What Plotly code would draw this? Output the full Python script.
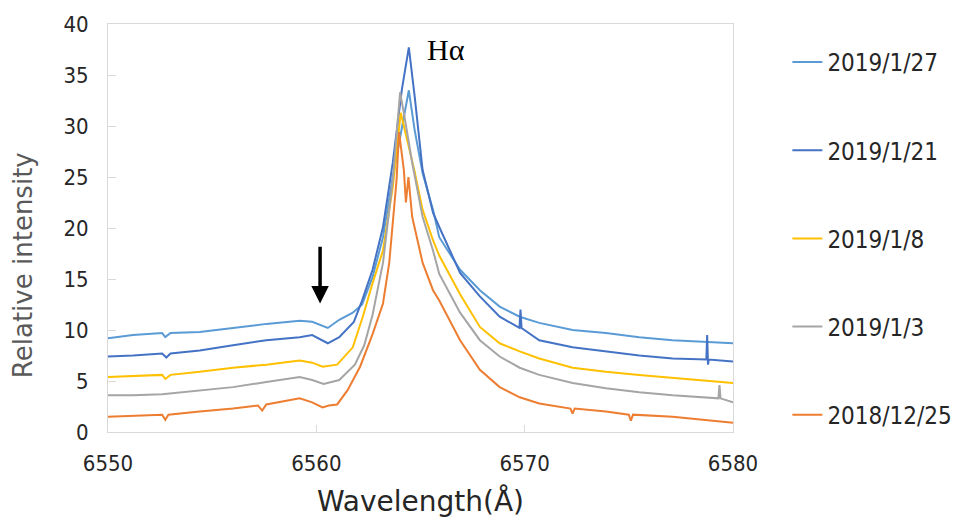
import plotly.graph_objects as go

# ---------------- data ----------------
series_names = ["2019/1/27", "2019/1/21", "2019/1/8", "2019/1/3", "2018/12/25"]
series_colors = ["#5B9BD5", "#4472C4", "#FFC000", "#A5A5A5", "#ED7D31"]

wl_0127 = [6550, 6551.2, 6552.6, 6552.75, 6553, 6554.4, 6556, 6557.6, 6559.2, 6559.8,
           6560.55, 6561.1, 6561.75, 6562.2, 6562.7, 6563.2, 6563.67, 6564.1, 6564.44,
           6564.72, 6565.1, 6565.6, 6565.9, 6566.9, 6567.85, 6568.8, 6569.76, 6570.7,
           6572.3, 6573.9, 6575.5, 6577.1, 6580]
in_0127 = [9.2, 9.5, 9.7, 9.3, 9.7, 9.8, 10.2, 10.6, 10.9, 10.8,
           10.2, 11.0, 11.7, 12.5, 15.2, 19.1, 25.0, 29.9, 33.5,
           29.6, 25.4, 21.8, 19.1, 15.9, 13.9, 12.3, 11.3, 10.7,
           10.0, 9.7, 9.3, 9.0, 8.7]

wl_0121 = [6550, 6551.2, 6552.6, 6552.8, 6553, 6554.4, 6556, 6557.6, 6559.2, 6559.8,
           6560.55, 6561.1, 6561.8, 6562.2, 6562.7, 6563.2, 6563.67, 6564.1, 6564.44,
           6564.72, 6565.1, 6565.6, 6565.9, 6566.9, 6567.85, 6568.8, 6569.75, 6569.8,
           6569.85, 6570.7, 6572.3, 6573.9, 6575.5, 6577.1, 6578.72, 6578.76, 6578.8,
           6578.84, 6580]
in_0121 = [7.4, 7.5, 7.7, 7.3, 7.7, 8.0, 8.5, 9.0, 9.3, 9.5,
           8.7, 9.3, 10.8, 12.9, 15.9, 20.1, 26.4, 33.5, 37.7,
           32.9, 25.7, 21.5, 20.1, 15.6, 13.3, 11.3, 10.2, 12.0,
           10.2, 9.0, 8.3, 7.9, 7.5, 7.2, 7.1, 9.5, 6.6,
           7.1, 6.9]

wl_0108 = [6550, 6551.2, 6552.6, 6552.75, 6553, 6554.4, 6556, 6557.6, 6559.2, 6559.8,
           6560.3, 6561.0, 6561.75, 6562.23, 6562.7, 6563.2, 6563.67, 6564.05, 6564.25,
           6564.7, 6565.1, 6565.6, 6565.9, 6566.9, 6567.85, 6568.8, 6569.76, 6570.7,
           6572.3, 6573.9, 6575.5, 6577.1, 6580]
in_0108 = [5.4, 5.5, 5.6, 5.2, 5.6, 5.9, 6.3, 6.6, 7.0, 6.8,
           6.4, 6.6, 8.3, 11.3, 14.6, 17.8, 24.0, 31.3, 29.6,
           25.7, 21.8, 18.8, 17.3, 13.5, 10.3, 8.7, 7.9, 7.2,
           6.3, 5.9, 5.6, 5.3, 4.8]

wl_0103 = [6550, 6551.2, 6552.6, 6554.4, 6556, 6557.6, 6559.2, 6559.8, 6560.35, 6561.1,
           6561.85, 6562.3, 6562.7, 6563.2, 6563.67, 6564.02, 6564.2, 6564.6, 6565.1,
           6565.6, 6565.9, 6566.9, 6567.85, 6568.8, 6569.76, 6570.7, 6572.3, 6573.9,
           6575.5, 6577.1, 6579.3, 6579.35, 6579.4, 6580]
in_0103 = [3.6, 3.6, 3.7, 4.1, 4.4, 4.9, 5.4, 5.1, 4.7, 5.1,
           6.6, 8.5, 11.5, 16.6, 24.7, 33.3, 31.3, 26.4, 21.1,
           17.8, 15.5, 11.7, 9.0, 7.4, 6.3, 5.6, 4.8, 4.3,
           3.9, 3.6, 3.3, 4.6, 3.3, 2.9]

wl_1225 = [6550, 6551.2, 6552.6, 6552.75, 6552.9, 6554.4, 6556, 6557.2, 6557.4, 6557.6,
           6559.2, 6559.8, 6560.3, 6560.6, 6561.0, 6561.5, 6562.1, 6562.7, 6563.2, 6563.5,
           6563.85, 6563.97, 6564.2, 6564.3, 6564.42, 6564.6, 6565.1, 6565.6, 6565.9,
           6566.9, 6567.85, 6568.8, 6569.76, 6570.7, 6572.2, 6572.3, 6572.4, 6573.9,
           6575.0, 6575.1, 6575.2, 6577.1, 6580]
in_1225 = [1.5, 1.6, 1.7, 1.2, 1.7, 2.0, 2.3, 2.6, 2.1, 2.7,
           3.3, 2.9, 2.4, 2.6, 2.7, 4.1, 6.4, 9.6, 12.6, 16.6,
           24.7, 29.4, 25.7, 22.5, 25.0, 21.1, 16.6, 13.9, 12.9,
           9.0, 6.1, 4.4, 3.4, 2.8, 2.3, 1.8, 2.3, 2.0,
           1.7, 1.1, 1.7, 1.5, 0.9]

wavelengths = [wl_0127, wl_0121, wl_0108, wl_0103, wl_1225]
intensities = [in_0127, in_0121, in_0108, in_0103, in_1225]

x_ticks = [6550, 6560, 6570, 6580]
y_ticks = [0, 5, 10, 15, 20, 25, 30, 35, 40]

# ---------------- figure ----------------
COND = "DejaVu Sans Condensed, Liberation Sans Narrow, sans-serif"
WIDE = "DejaVu Sans, sans-serif"
TXT = "#262626"
fig = go.Figure()
for i, name in enumerate(series_names):
    fig.add_trace(go.Scatter(
        x=wavelengths[i], y=intensities[i], mode="lines", name=name,
        line=dict(color=series_colors[i], width=2),
        legendgroup=name,
    ))

axis_line = "#D9D9D9"
fig.update_layout(
    width=957, height=524,
    margin=dict(l=108, r=224, t=24, b=92, autoexpand=False),
    paper_bgcolor="white", plot_bgcolor="white",
    font=dict(family=COND, color=TXT),
    showlegend=True,
    legend=dict(
        x=1.087, xanchor="left", y=0.961, yanchor="top",
        font=dict(family=COND, size=24, color=TXT),
        tracegroupgap=54, itemwidth=30, bgcolor="rgba(0,0,0,0)",
        traceorder="grouped",
    ),
    xaxis=dict(
        range=[6550, 6580], tickvals=x_ticks, ticktext=[str(v) for v in x_ticks],
        ticks="inside", ticklen=7, tickcolor=axis_line,
        showline=True, linecolor=axis_line, linewidth=1, mirror=True,
        showgrid=False, zeroline=False, ticklabelstandoff=12,
        tickfont=dict(size=22, family=COND, color=TXT),
        title=dict(text="Wavelength(Å)", font=dict(size=28, family=WIDE, color=TXT),
                   standoff=15),
    ),
    yaxis=dict(
        range=[0, 40], tickvals=y_ticks, ticktext=[str(v) for v in y_ticks],
        ticks="inside", ticklen=8, tickcolor=axis_line,
        showline=True, linecolor=axis_line, linewidth=1, mirror=True,
        showgrid=False, zeroline=False, ticklabelstandoff=14,
        tickfont=dict(size=22, family=COND, color=TXT),
    ),
    annotations=[
        dict(x=-0.136, y=0.409, xref="paper", yref="paper", text="Relative intensity",
             textangle=-90, showarrow=False, xanchor="center", yanchor="middle",
             font=dict(family=WIDE, size=26, color="#595959")),
        dict(x=6566.2, y=37.5, xref="x", yref="y", text="Hα", showarrow=False,
             font=dict(family="Liberation Serif, Times New Roman, serif", size=30, color="black")),
        dict(x=6560.18, y=12.6, xref="x", yref="y", ax=6560.18, ay=18.3,
             axref="x", ayref="y", text="", showarrow=True,
             arrowhead=2, arrowsize=1, arrowwidth=3.5, arrowcolor="black"),
    ],
)

fig.write_html("out.html")
